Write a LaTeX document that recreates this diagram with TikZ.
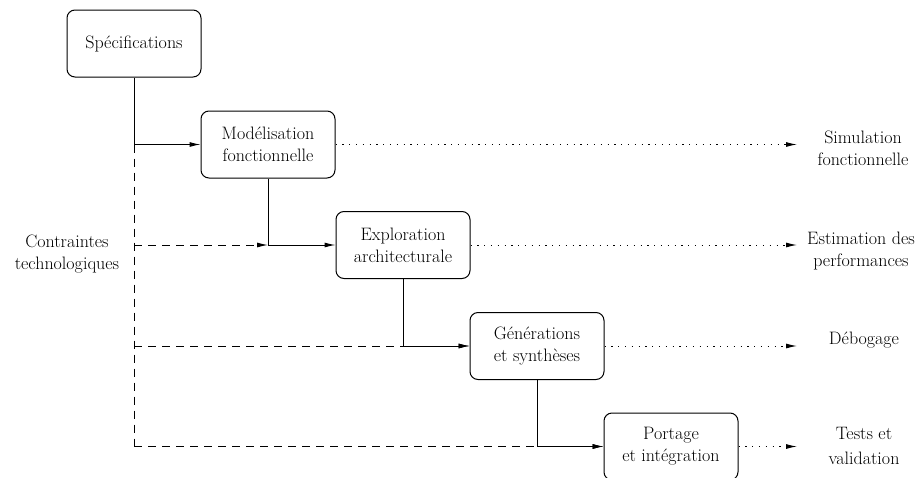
\documentclass[tikz,border=0pt]{standalone}
\usepackage{fontspec}
\usetikzlibrary{arrows.meta}
\begin{document}
\begin{tikzpicture}[x=1pt,y=-1pt,
  every node/.style={font=\fontsize{18}{22}\selectfont, align=center},
  box/.style={draw, rounded corners=8pt, line width=1pt, minimum width=134pt, minimum height=67pt, inner sep=0pt},
  lbl/.style={inner sep=0pt},
  tip/.style={-{Latex[length=11pt,width=5pt]}},
  conn/.style={line width=1pt},
  dash line/.style={line width=1pt, dash pattern=on 8pt off 6pt},
  dot line/.style={line width=1pt, dash pattern=on 1.2pt off 5.6pt}]
\useasboundingbox (0,0) rectangle (919,477);
\node[box] (spec) at (134,43.5) {Spécifications};
\node[box] (mod) at (268,144.5) {Modélisation\\fonctionnelle};
\node[box] (exp) at (403,245) {Exploration\\architecturale};
\node[box] (gen) at (537,346) {Générations\\et synthèses};
\node[box] (port) at (671,446.5) {Portage\\et intégration};
\node[lbl] (cont) at (67,254) {Contraintes\\technologiques};
\node[lbl] (sim) at (863,148) {Simulation\\fonctionnelle};
\node[lbl] (est) at (861,251) {Estimation des\\performances};
\node[lbl] (deb) at (864,340) {Débogage};
\node[lbl, font=\fontsize{18}{25}\selectfont] (tst) at (864,446) {Tests et\\validation};
\coordinate (e1) at (797,144.5);
\coordinate (e2) at (797,245);
\coordinate (e3) at (797,346);
\coordinate (e4) at (797,446.5);
% solid flow
\draw[conn, tip] (spec.south) |- (mod.west);
\draw[conn, tip] (mod.south) |- (exp.west);
\draw[conn, tip] (exp.south) |- (gen.west);
\draw[conn, tip] (gen.south) |- (port.west);
% dashed constraints
\draw[dash line] (spec.south |- mod.west) -- (spec.south |- port.west);
\draw[dash line, tip] (spec.south |- exp.west) -- (mod.south |- exp.west);
\draw[dash line, tip] (spec.south |- gen.west) -- (gen.west);
\draw[dash line, tip] (spec.south |- port.west) -- (port.west);
% dotted outputs
\draw[dot line, tip] (mod.east) -- (e1);
\draw[dot line, tip] (exp.east) -- (e2);
\draw[dot line, tip] (gen.east) -- (e3);
\draw[dot line, tip] (port.east) -- (e4);
\end{tikzpicture}
\end{document}
